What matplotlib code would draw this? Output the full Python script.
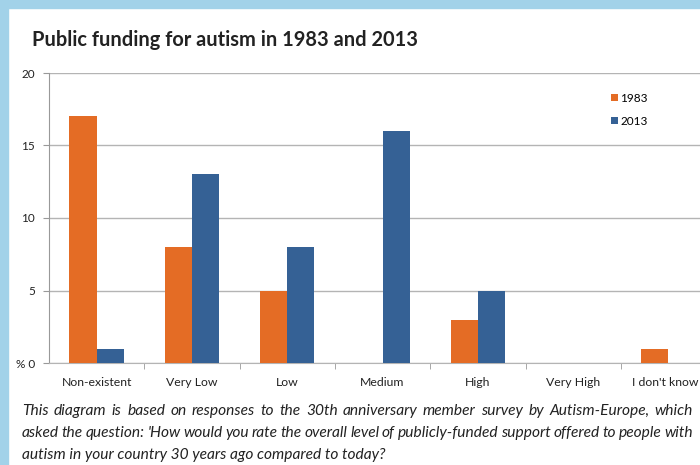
import numpy as np
import matplotlib.pyplot as plt
from matplotlib.patches import Rectangle
import matplotlib.transforms as mtransforms

# Data
categories = ['Non-existent', 'Very Low', 'Low', 'Medium', 'High', 'Very High', "I don't know"]
vals_1983 = [17, 8, 5, 0, 3, 0, 1]
vals_2013 = [1, 13, 8, 16, 5, 0, 0]
yticks = [0, 5, 10, 15, 20]

orange = '#e46c25'
blue = '#356195'
border = '#a2d2e9'

plt.rcParams['font.family'] = ['Lato', 'DejaVu Sans']

fig = plt.figure(figsize=(7, 4.65), dpi=100)
fig.patch.set_facecolor('white')

# light blue frame on top and left
fig.patches.append(Rectangle((0, 0), 8 / 700, 1, transform=fig.transFigure,
                             color=border, zorder=0))
fig.patches.append(Rectangle((0, 1 - 8 / 465), 1, 8 / 465, transform=fig.transFigure,
                             color=border, zorder=0))

# axes run off the right edge as in the original
axw = 95.3 * 7
ax = fig.add_axes([49 / 700, 1 - 363 / 465, axw / 700, 290 / 465])
x = np.arange(len(categories))
w = 0.285
ax.bar(x - w / 2, vals_1983, w, color=orange, label='1983', zorder=3)
ax.bar(x + w / 2, vals_2013, w, color=blue, label='2013', zorder=3)

ax.set_xlim(-0.5, len(categories) - 0.5)
ax.set_ylim(0, 20)
ax.set_yticks(yticks)
ax.set_yticklabels(['% 0' if v == 0 else str(v) for v in yticks], fontsize=8.5, color='#222222')
ax.yaxis.grid(True, color='#b4b4b4', linewidth=1, zorder=0)
ax.tick_params(axis='y', length=4, color='#999999', pad=6)

ax.set_xticks(x)
ax.set_xticklabels(categories, fontsize=8.8, color='#222222')
ax.set_xticks(np.arange(len(categories)) + 0.5, minor=True)
ax.tick_params(axis='x', which='major', length=0, pad=10)
ax.tick_params(axis='x', which='minor', length=4, color='#999999')

# keep the last label inside the picture
last = ax.get_xticklabels()[-1]
last.set_transform(last.get_transform() +
                   mtransforms.ScaledTranslation(-3 / 100, 0, fig.dpi_scale_trans))

for s in ['top', 'right']:
    ax.spines[s].set_visible(False)
ax.spines['left'].set_color('#999999')
ax.spines['bottom'].set_color('#b4b4b4')

leg = ax.legend(loc='upper left', bbox_to_anchor=((606 - 49) / axw, 1 - (88 - 73) / 290),
                frameon=False, fontsize=8.5, handlelength=0.6, handleheight=0.6,
                handletextpad=0.2, labelspacing=1.0, borderaxespad=0)

fig.text(32 / 700, 1 - 40 / 465, 'Public funding for autism in 1983 and 2013',
         fontsize=14.4, fontweight='bold', color='#222222', va='center')

# justified caption
caption = [
    ("This diagram is based on responses to the 30th anniversary member survey by Autism-Europe, which", True),
    ("asked the question: 'How would you rate the overall level of publicly-funded support offered to people with", True),
    ("autism in your country 30 years ago compared to today?", False),
]
cap_font = dict(fontsize=11.2, style='italic', color='#222222', va='center')
x0, x1 = 22, 693
line_y = [411, 433, 455]
fig.canvas.draw()
renderer = fig.canvas.get_renderer()
for (line, justify), yy in zip(caption, line_y):
    if not justify:
        fig.text(x0 / 700, 1 - yy / 465, line, **cap_font)
        continue
    words = line.split(' ')
    texts = [fig.text(0, 1 - yy / 465, wd, **cap_font) for wd in words]
    widths = [t.get_window_extent(renderer).width for t in texts]
    gap = (x1 - x0 - sum(widths)) / (len(words) - 1)
    pos = x0
    for t, wd in zip(texts, widths):
        t.set_x(pos / 700)
        pos += wd + gap

fig.savefig('out.png', dpi=100)
